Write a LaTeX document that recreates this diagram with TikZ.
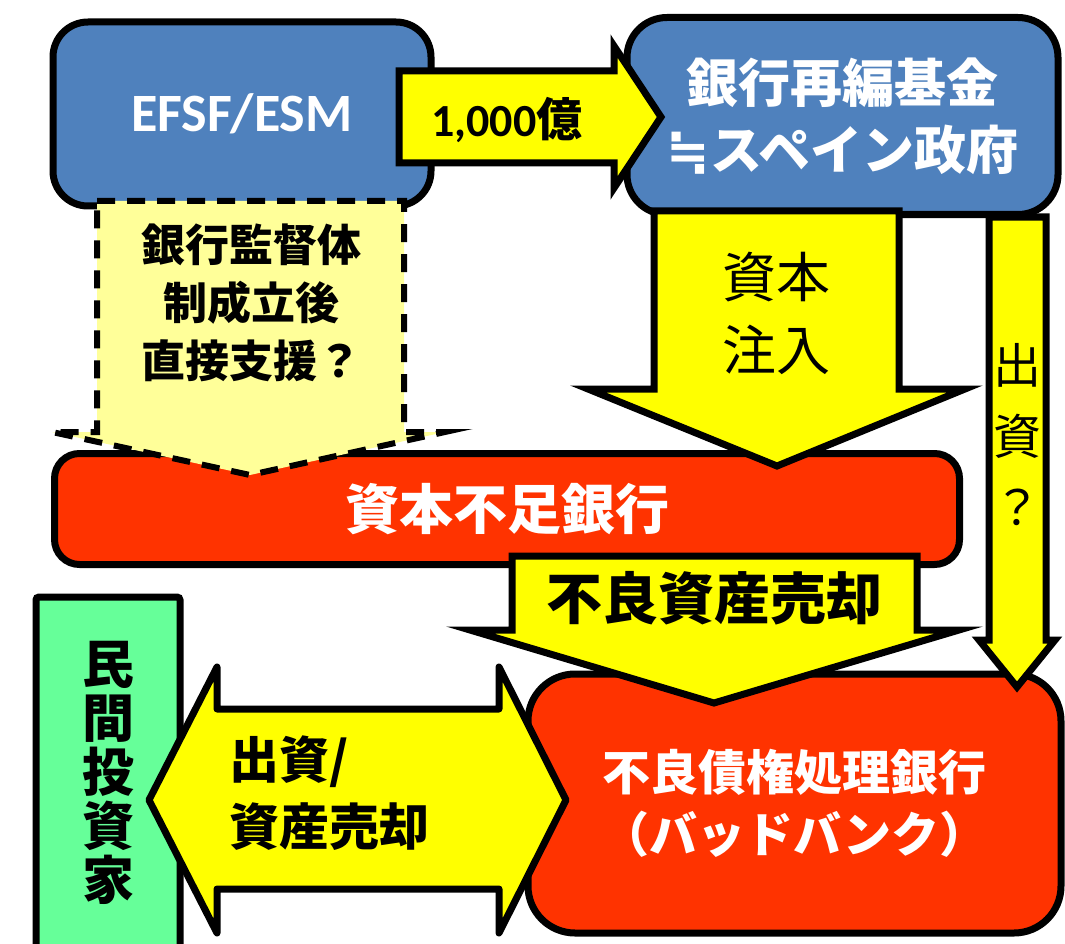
\documentclass[tikz,border=0pt]{standalone}
\usepackage{fontspec}
\setsansfont{Carlito}
\newfontfamily\jpfont{Noto Sans CJK JP}
\newfontfamily\mathsymfont{DejaVu Sans}
\usepackage{tikz}
\usetikzlibrary{positioning}

\definecolor{BoxBlue}{HTML}{4F81BD}
\definecolor{BankRed}{HTML}{FF3300}
\definecolor{FlowYellow}{HTML}{FFFF00}
\definecolor{PaleYellow}{HTML}{FFFF99}
\definecolor{InvestGreen}{HTML}{66FF99}

\begin{document}
\begin{tikzpicture}[x=1pt, y=-1pt]
  \tikzset{BoxStyle/.style = {shape          = rectangle,
                              draw           = black,
                              line width     = 7pt,
                              inner sep      = 0pt,
                              outer sep      = 0pt,
                              align          = center}}
  \tikzset{FlowStyle/.style = {draw           = black,
                               fill           = FlowYellow,
                               line width     = 7pt}}
  \tikzset{JpLabel/.style 2 args = {font      = \jpfont\fontsize{#1}{#2}\selectfont,
                                    align     = center,
                                    inner sep = 0pt}}
  \tikzset{JpBold/.style 2 args = {font      = \jpfont\bfseries\fontsize{#1}{#2}\selectfont,
                                   align     = center,
                                   inner sep = 0pt}}
  \useasboundingbox (0,0) rectangle (1065,944);

	%%% BOITES %%%
	\node[BoxStyle, fill=BoxBlue, rounded corners=35pt, minimum width=378pt, minimum height=184pt,
	      text=white, font=\sffamily\bfseries\fontsize{54}{60}\selectfont](efsf) at (242,114){EFSF/ESM};
	\node[BoxStyle, fill=BoxBlue, rounded corners=40pt, minimum width=431pt, minimum height=197pt,
	      text=white, JpBold={52}{67}](fund) at (842.5,116){銀行再編基金\\{\mathsymfont\bfseries ≒}スペイン政府};
	\node[BoxStyle, fill=BankRed, rounded corners=25pt, minimum width=905pt, minimum height=111pt,
	      text=white, JpBold={54}{60}](weak) at (507,509){資本不足銀行};
	\node[BoxStyle, fill=BankRed, rounded corners=47pt, minimum width=533pt, minimum height=259pt,
	      text=white, JpBold={48}{62}](bad) at (794.5,803.5){不良債権処理銀行\\（バッドバンク）};
	\node[BoxStyle, fill=InvestGreen, rounded corners=3pt, minimum width=144pt, minimum height=352pt,
	      JpBold={52}{54}](priv) at (108,773){民\\間\\投\\資\\家};

	%%% 1,000 %%%
	\draw[FlowStyle] (399,71) -- (614,71) -- (614,46) -- (661,117) -- (614,188) -- (614,163) -- (399,163) -- cycle;
	\node[inner sep=0pt, font=\sffamily\bfseries\fontsize{46}{50}\selectfont](amount) at (507,120){1,000{\jpfont 億}};

	%%% SUPERVISION (dashed) %%%
	\draw[FlowStyle, fill=PaleYellow, line width=6pt, dash pattern=on 18pt off 12pt]
	  (97,201) -- (404,201) -- (404,432) -- (445,432) -- (250,475) -- (52,432) -- (97,432) -- cycle;
	\node[JpBold={44}{58}](direct) at (251,303){銀行監督体\\制成立後\\直接支援？};

	%%% CAPITAL %%%
	\draw[FlowStyle] (654,211) -- (899,211) -- (899,389) -- (965,389) -- (777,466) -- (588,389) -- (654,389) -- cycle;
	\node[JpLabel={54}{73}](inject) at (776,313){資本\\注入};

	%%% FUNDING ? %%%
	\draw[FlowStyle] (989,217) -- (1046,217) -- (1046,640) -- (1055,640) -- (1017,687) -- (979,640) -- (989,640) -- cycle;
	\node[JpLabel={48}{71}](fundq) at (1017,435){出\\資\\？};

	%%% SALE %%%
	\draw[FlowStyle] (512,556) -- (917,556) -- (917,630) -- (959,630) -- (714,703) -- (470,630) -- (512,630) -- cycle;
	\node[JpBold={56}{60}](sale) at (714,598){不良資産売却};

	%%% DOUBLE %%%
	\draw[FlowStyle, line join=round] (149,800) -- (217,667) -- (217,709) -- (499,709) -- (499,667) -- (566,800)
	  -- (499,933) -- (499,889) -- (217,889) -- (217,933) -- cycle;
	\node[JpBold={50}{67}, align=left, anchor=west](swap) at (229,793){出資/\\資産売却};
\end{tikzpicture}
\end{document}
